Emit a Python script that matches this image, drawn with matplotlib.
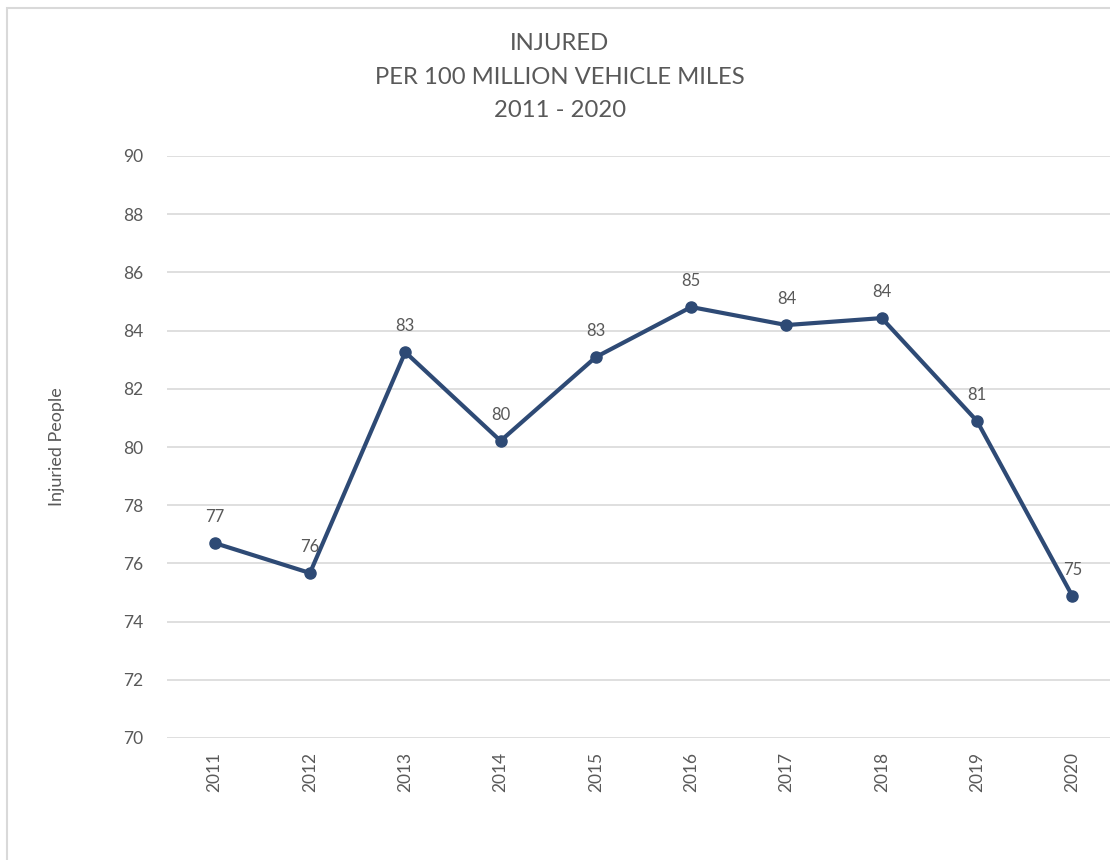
import matplotlib.pyplot as plt
from matplotlib.patches import Rectangle

# Данные
years = ["2011", "2012", "2013", "2014", "2015", "2016", "2017", "2018", "2019", "2020"]
injured = [76.70, 75.67, 83.26, 80.21, 83.09, 84.81, 84.19, 84.43, 80.89, 74.88]
labels = ["77", "76", "83", "80", "83", "85", "84", "84", "81", "75"]

LINE_COLOR = "#2E4A75"
TEXT_COLOR = "#595959"
GRID_COLOR = "#D9D9D9"

plt.rcParams["font.family"] = ["Lato", "DejaVu Sans"]

fig = plt.figure(figsize=(11.1, 8.6), dpi=100)
fig.patches.append(Rectangle((7 / 1110, -0.1), 1.2, 1.1 - 8 / 860,
                             transform=fig.transFigure, fill=False,
                             edgecolor=GRID_COLOR, linewidth=1.5))

ax = fig.add_axes([167 / 1110, 1 - 738 / 860, 953 / 1110, 582 / 860])
x = list(range(len(years)))
ax.plot(x, injured, color=LINE_COLOR, linewidth=3, marker="o", markersize=8)
for xi, yi, lab in zip(x, injured, labels):
    ax.annotate(lab, (xi, yi), xytext=(0, 13), textcoords="offset points",
                ha="center", va="bottom", fontsize=12, color=TEXT_COLOR)

ax.set_xlim(-0.5, len(years) - 0.5)
ax.set_ylim(70, 90)
ax.set_yticks(range(70, 91, 2))
ax.set_xticks(x)
ax.set_xticklabels(years, rotation=90)
ax.tick_params(axis="both", length=0, labelsize=12.5, labelcolor=TEXT_COLOR)
ax.tick_params(axis="y", pad=17)
ax.tick_params(axis="x", pad=10)
ax.grid(axis="y", color=GRID_COLOR, linewidth=1.2)
ax.set_axisbelow(True)
for s in ax.spines.values():
    s.set_visible(False)

ax.set_ylabel("Injuried People", fontsize=13, color=TEXT_COLOR, labelpad=42)

fig.text(560 / 1110, 1 - 77 / 860,
         "INJURED\nPER 100 MILLION VEHICLE MILES\n2011 - 2020",
         ha="center", va="center", fontsize=17.2, color=TEXT_COLOR,
         linespacing=1.75)

fig.savefig("out.png", dpi=100)
